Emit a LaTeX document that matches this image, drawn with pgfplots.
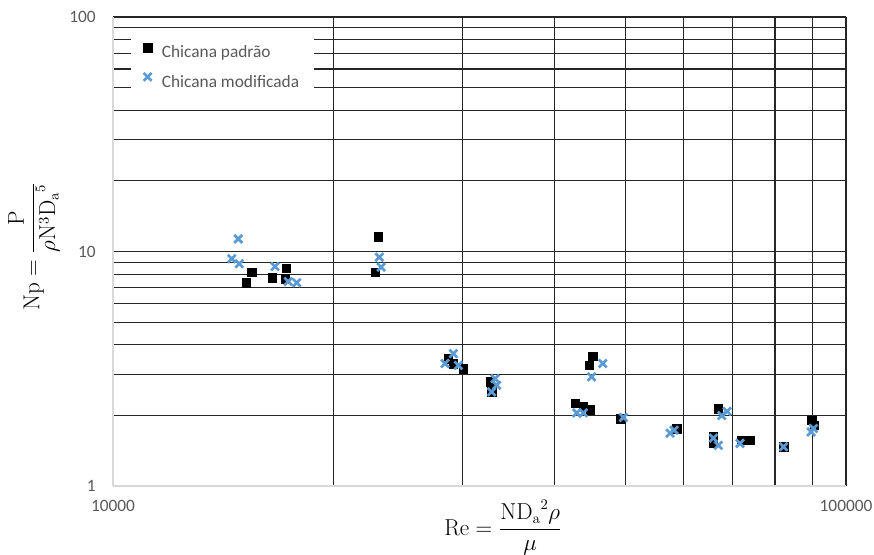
\documentclass[border=0pt]{standalone}
\usepackage[no-math]{fontspec}
\setmainfont{Carlito}
\usepackage{pgfplots}
\pgfplotsset{compat=1.18}
\usetikzlibrary{calc}
\definecolor{tickgray}{HTML}{595959}
\definecolor{modblue}{HTML}{5B9BD5}
\definecolor{axgray}{HTML}{D9D9D9}

\begin{document}
\begin{tikzpicture}
\begin{axis}[
  xmode=log, ymode=log,
  scale only axis, width=549.75pt, height=351.75pt,
  xmin=10000, xmax=100000, ymin=1, ymax=100,
  xtick={10000,100000}, xticklabels={10000,100000},
  ytick={1,10,100}, yticklabels={1,10,100},
  minor xtick={20000,30000,40000,50000,60000,70000,80000,90000},
  minor ytick={2,3,4,5,6,7,8,9,20,30,40,50,60,70,80,90},
  grid=both,
  major grid style={black!85, line width=0.85pt},
  minor grid style={black!85, line width=0.85pt},
  tick style={draw=none},
  axis x line*=bottom, axis y line*=left,
  axis line style={-, draw=axgray, line width=1.4pt},
  tick label style={font=\fontsize{13}{15}\selectfont, text=tickgray},
  xticklabel style={inner sep=0pt, anchor=north, yshift=-10.5pt},
  yticklabel style={inner sep=0pt, anchor=east, xshift=-12.75pt},
  xlabel={$\displaystyle \mathrm{Re}=\frac{\mathrm{N}{\mathrm{D}_{\mathrm{a}}}^{2}\rho}{\mu}$},
  xlabel style={at={(axis description cs:0.532,-0.089)}, anchor=center, font=\fontsize{16}{19}\selectfont},
  ylabel={$\displaystyle \mathrm{Np}=\frac{\mathrm{P}}{\rho\mathrm{N}^{3}{\mathrm{D}_{\mathrm{a}}}^{5}}$},
  ylabel style={at={(axis description cs:-0.108,0.51)}, anchor=center, font=\fontsize{16}{19}\selectfont},
  legend style={at={(axis description cs:0.0246,0.966)}, anchor=north west,
    draw=none, fill=white, font=\fontsize{13}{15}\selectfont, text=tickgray,
    inner xsep=9pt, inner ysep=7.5pt, row sep=7.5pt,
    /tikz/every odd column/.append style={column sep=5.5pt}},
  legend cell align=left,
  legend image code/.code={\draw[#1] plot coordinates {(0pt,4pt)};},
]
\addplot[only marks, mark=square*, mark size=3.2pt, draw=black, fill=black, mark options={line width=0.3pt}]
coordinates {
(15190,7.38) (15470,8.17) (16480,7.73) (17220,8.49) (17170,7.65)
(22780,8.17) (23010,11.58)
(28670,3.49) (29130,3.33) (30060,3.17) (32680,2.78) (32860,2.52)
(45130,3.57) (44650,3.27) (42690,2.25) (43810,2.18) (44740,2.11) (49180,1.94)
(58750,1.76) (66960,2.14) (65920,1.62) (65920,1.52) (72060,1.57) (73960,1.57)
(82150,1.47) (89770,1.91) (90420,1.82)
};
\addlegendentry{Chicana padrão}
\addplot[only marks, mark=x, mark size=4.2pt, draw=modblue, mark options={line width=2pt}]
coordinates {
(14820,11.32) (14520,9.31) (14870,8.87) (16630,8.63) (17340,7.45) (17810,7.36)
(23080,9.46) (23210,8.58)
(29130,3.67) (28380,3.33) (29590,3.27) (33200,2.87) (33380,2.69) (32860,2.52)
(46560,3.33) (44980,2.92) (42920,2.05) (43810,2.05) (49690,1.96)
(57540,1.68) (58260,1.73) (67680,2.00) (68830,2.08) (65920,1.60) (66960,1.49)
(71680,1.52) (82150,1.47) (90270,1.76) (89610,1.70)
};
\addlegendentry{Chicana modificada}
\coordinate (sw) at (rel axis cs:0,0);
\coordinate (ne) at (rel axis cs:1,1);
\end{axis}
\pgfresetboundingbox
\path[use as bounding box] ($(sw)+(-84.75pt,-51pt)$) rectangle ($(ne)+(21pt,12.75pt)$);
\end{tikzpicture}
\end{document}
